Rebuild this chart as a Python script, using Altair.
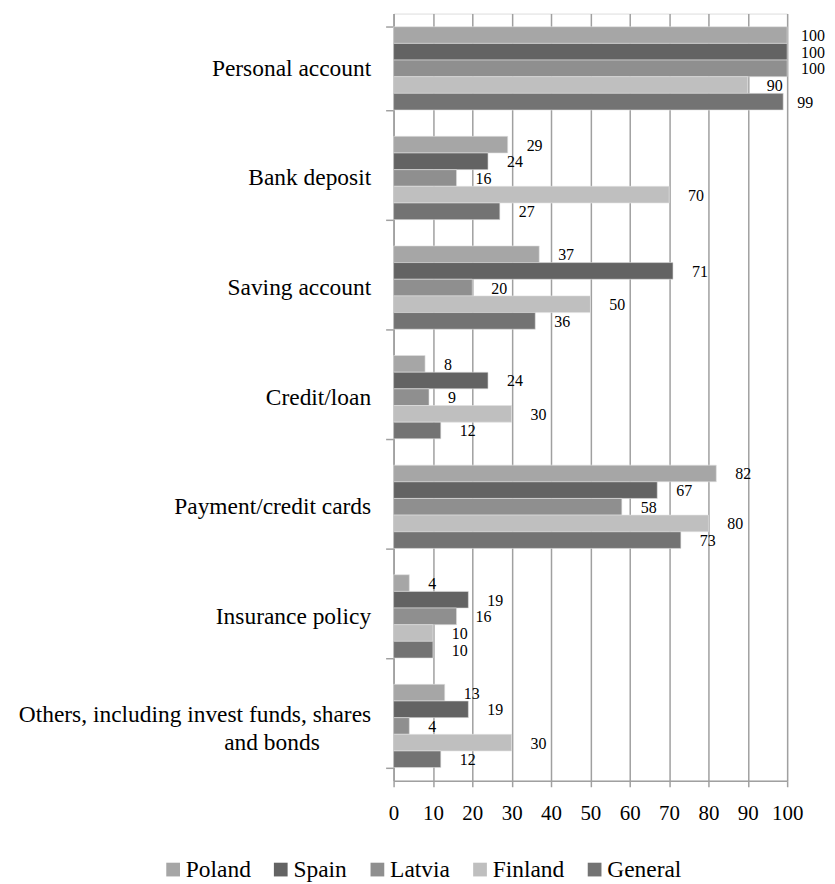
import altair as alt
import pandas as pd

categories = [
    "Personal account",
    "Bank deposit",
    "Saving account",
    "Credit/loan",
    "Payment/credit cards",
    "Insurance policy",
    "Others, including invest funds, shares and bonds",
]
series = ["Poland", "Spain", "Latvia", "Finland", "General"]
poland = [100, 29, 37, 8, 82, 4, 13]
spain = [100, 24, 71, 24, 67, 19, 19]
latvia = [100, 16, 20, 9, 58, 16, 4]
finland = [90, 70, 50, 30, 80, 10, 30]
general = [99, 27, 36, 12, 73, 10, 12]
colors = ["#A6A6A6", "#636363", "#8F8F8F", "#BFBFBF", "#737373"]
x_ticks = list(range(0, 101, 10))

rows = []
for s, vals in zip(series, [poland, spain, latvia, finland, general]):
    for c, v in zip(categories, vals):
        rows.append({"category": c, "series": s, "value": v})
df = pd.DataFrame(rows)

FONT = "Times New Roman, Liberation Serif, DejaVu Serif, serif"
grid_col = "#A0A0A0"
LONG = "Others, including invest funds, shares and bonds"

label_expr = (
    "datum.value == '" + LONG + "' ? "
    "['Others, including invest funds, shares', 'and bonds" + "\u2800" * 3 + "'] : datum.value"
)

y_enc = alt.Y(
    "category:N",
    sort=categories,
    scale=alt.Scale(paddingInner=0.24, paddingOuter=0.12),
    axis=alt.Axis(
        title=None,
        labelExpr=label_expr,
        labelFont=FONT,
        labelFontSize=23.5,
        labelColor="#000000",
        labelPadding=15,
        labelLineHeight=28,
        labelLimit=600,
        labelOffset={"condition": {"test": "datum.value == '" + LONG + "'", "value": -11}, "value": 0},
        tickBand="extent",
        tickSize=8,
        tickColor=grid_col,
        tickWidth=1.5,
        domainColor=grid_col,
        domainWidth=1.5,
        grid=False,
    ),
)
yoff = alt.YOffset("series:N", sort=series, scale=alt.Scale(paddingInner=0, paddingOuter=0))

x_enc = alt.X(
    "value:Q",
    scale=alt.Scale(domain=[0, 100], nice=False),
    axis=alt.Axis(
        title=None,
        values=x_ticks,
        labelOverlap=False,
        labelFlush=False,
        labelFont=FONT,
        labelFontSize=21,
        labelColor="#000000",
        labelPadding=16,
        tickSize=6,
        tickColor=grid_col,
        tickWidth=1.5,
        domainColor=grid_col,
        domainWidth=1.5,
        grid=True,
        gridColor=grid_col,
        gridWidth=1.5,
    ),
)

base = alt.Chart(df)

bars = base.mark_bar(stroke="#E0E0E0", strokeWidth=0.6).encode(
    x=x_enc,
    y=y_enc,
    yOffset=yoff,
    color=alt.Color(
        "series:N",
        sort=series,
        scale=alt.Scale(domain=series, range=colors),
        legend=alt.Legend(
            title=None,
            orient="none",
            direction="horizontal",
            legendX=-233,
            legendY=847,
            padding=0,
            symbolType="square",
            symbolSize=190,
            symbolStrokeWidth=0,
            labelFont=FONT,
            labelFontSize=23.5,
            labelColor="#000000",
            labelOffset=1,
            columnPadding=18,
        ),
    ),
)

labels = base.transform_filter("datum.value < 99").mark_text(
    align="left", baseline="middle", dx=19, dy=1, font=FONT, fontSize=16, color="#000000"
).encode(
    x=x_enc,
    y=y_enc,
    yOffset=yoff,
    text=alt.Text("value:Q"),
)

labels_hi = base.transform_filter("datum.value >= 99").mark_text(
    align="left", baseline="middle", dx=14, dy=1, font=FONT, fontSize=16, color="#000000"
).encode(
    x=x_enc,
    y=y_enc,
    yOffset=yoff,
    text=alt.Text("value:Q"),
)

chart = (
    alt.layer(bars, labels, labels_hi)
    .properties(
        width=395,
        height=770,
        autosize=alt.AutoSizeParams(type="none"),
        padding={"left": 387, "top": 4, "right": 40, "bottom": 102},
    )
    .configure_view(stroke=None)
    .configure(background="#FFFFFF", font=FONT)
)

chart.save("out.html", embed_options={"renderer": "svg", "actions": False})
